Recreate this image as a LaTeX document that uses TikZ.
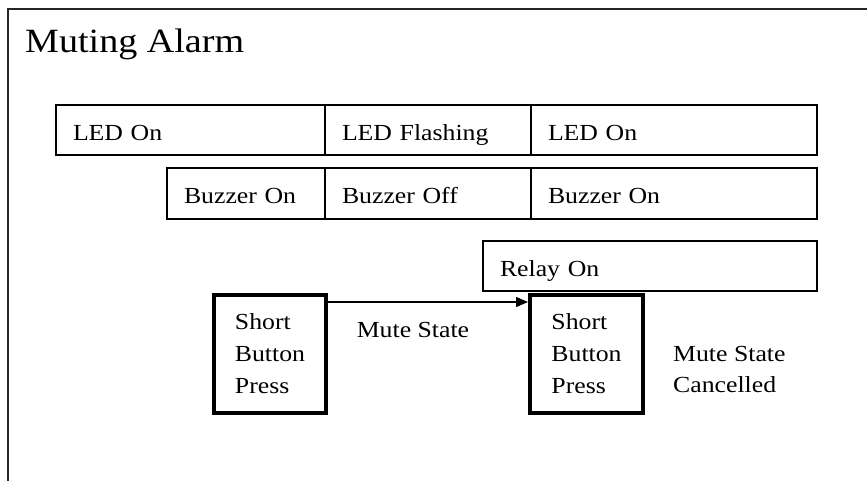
\documentclass[tikz,border=0pt]{standalone}
\usepackage{fontspec}
\setmainfont{Liberation Serif}[FakeStretch=1.12]
\usetikzlibrary{arrows.meta}
\tikzset{
  cell/.style={draw=black, line width=1.2pt, rectangle, inner xsep=17pt, inner ysep=0pt,
    text height=20pt, text depth=0pt, align=left, font=\fontsize{23}{32}\selectfont},
  btn/.style={draw=black, line width=4pt, rectangle, inner sep=0pt, align=left,
    font=\fontsize{23}{32}\selectfont},
  lbl/.style={inner sep=0pt, align=left, font=\fontsize{23}{31}\selectfont},
  conn/.style={line width=1.3pt, -{Triangle[length=12pt,width=10pt]}}
}
\begin{document}
\begin{tikzpicture}[x=1pt,y=-1pt]
\useasboundingbox (0,0) rectangle (867,480);
% frame
\draw[line width=1.5pt, black!85] (8,481) -- (8,9) -- (868,9);
\node[inner sep=0pt, anchor=base west, font=\fontsize{34}{40}\selectfont] (title) at (25,52) {Muting Alarm};
% LED row
\node[cell, minimum width=269pt, minimum height=50pt, text width=235pt] (led1) at (190.5,130) {LED On};
\node[cell, minimum width=206pt, minimum height=50pt, text width=172pt] (led2) at (428,130) {LED Flashing};
\node[cell, minimum width=286pt, minimum height=50pt, text width=252pt] (led3) at (674,130) {LED On};
% Buzzer row
\node[cell, minimum width=158pt, minimum height=51pt, text width=124pt] (buz1) at (246,193.5) {Buzzer On};
\node[cell, minimum width=206pt, minimum height=51pt, text width=172pt] (buz2) at (428,193.5) {Buzzer Off};
\node[cell, minimum width=286pt, minimum height=51pt, text width=252pt] (buz3) at (674,193.5) {Buzzer On};
% Relay
\node[cell, minimum width=334pt, minimum height=50pt, text width=300pt] (relay) at (650,266) {Relay On};
% Buttons
\node[btn, minimum width=112pt, minimum height=118pt] (b1) at (270,354) {Short\\Button\\Press};
\node[btn, minimum width=113pt, minimum height=118pt] (b2) at (586.5,354) {Short\\Button\\Press};
\draw[conn] ([yshift=-9pt]b1.north east) -- ([yshift=-9pt]b2.north west);
\node[lbl] (mute) at (413,330) {Mute State};
\node[lbl, anchor=west] (cancel) at (673,369) {Mute State\\Cancelled};
\end{tikzpicture}
\end{document}
